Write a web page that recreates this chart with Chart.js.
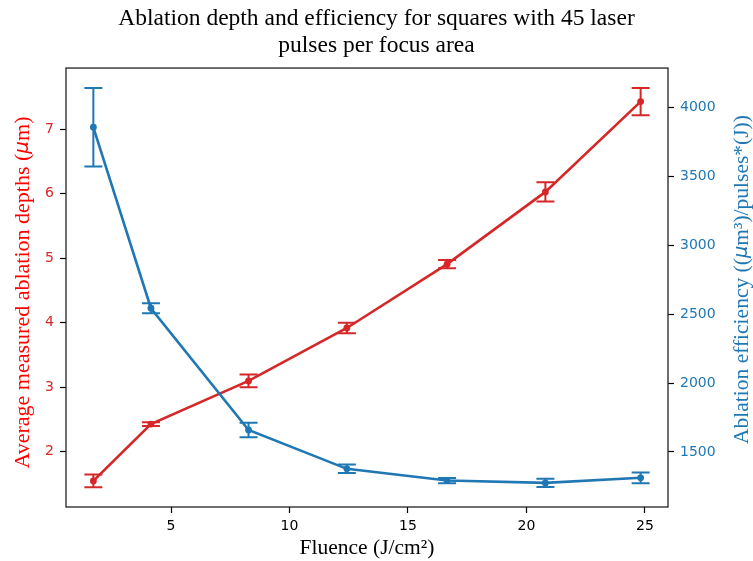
<!DOCTYPE html>
<html>
<head>
<meta charset="utf-8">
<script src="https://cdn.jsdelivr.net/npm/chart.js@4"></script>
<style>
  html, body { margin: 0; padding: 0; background: #fff; }
  #wrap { width: 753px; height: 561px; }
</style>
</head>
<body>
<div id="wrap"><canvas id="c" width="753" height="561"></canvas></div>
<script>
const fluence = [1.72, 4.15, 8.27, 12.42, 16.65, 20.8, 24.82];
const depth = [1.55, 2.43, 3.10, 3.92, 4.91, 6.03, 7.43];
const depthErr = [0.10, 0.03, 0.10, 0.08, 0.065, 0.15, 0.21];
const efficiency = [3857, 2543, 1659, 1377, 1292, 1275, 1312];
const efficiencyErr = [285, 36, 53, 31, 19, 30, 39];
const xTicks = [5, 10, 15, 20, 25];
const leftTicks = [2, 3, 4, 5, 6, 7];
const rightTicks = [1500, 2000, 2500, 3000, 3500, 4000];

const RED = '#d62728';
const BLUE = '#1f77b4';
const SERIF = "'Liberation Serif', 'DejaVu Serif', serif";
const SANS = "'DejaVu Sans', sans-serif";

const leftTitle = [
  { t: 'Average measured ablation depths (', f: `22px ${SERIF}` },
  { t: 'μ', f: `italic 20px ${SANS}` },
  { t: 'm)', f: `22px ${SERIF}` }
];
const rightTitle = [
  { t: 'Ablation efficiency ((', f: `21.5px ${SERIF}` },
  { t: 'μ', f: `italic 19.5px ${SANS}` },
  { t: 'm³)/pulses*(J))', f: `21.5px ${SERIF}` }
];

const errorBars = {
  id: 'errorBars',
  afterDatasetDraw(chart, args) {
    const ds = chart.data.datasets[args.index];
    if (!ds.errors) return;
    const ctx = chart.ctx;
    const xs = chart.scales.x;
    const ys = chart.scales[ds.yAxisID];
    ctx.save();
    ctx.strokeStyle = ds.borderColor;
    ctx.lineWidth = 2;
    ds.data.forEach((p, i) => {
      const e = ds.errors[i];
      const px = xs.getPixelForValue(p.x);
      const top = ys.getPixelForValue(p.y + e);
      const bot = ys.getPixelForValue(p.y - e);
      ctx.beginPath();
      ctx.moveTo(px, top); ctx.lineTo(px, bot);
      ctx.moveTo(px - 9, top); ctx.lineTo(px + 9, top);
      ctx.moveTo(px - 9, bot); ctx.lineTo(px + 9, bot);
      ctx.stroke();
    });
    ctx.restore();
  }
};

function drawRotated(ctx, parts, cx, cy, color) {
  ctx.save();
  ctx.fillStyle = color;
  ctx.textBaseline = 'middle';
  ctx.textAlign = 'left';
  let total = 0;
  parts.forEach(p => { ctx.font = p.f; p.w = ctx.measureText(p.t).width; total += p.w; });
  ctx.translate(cx, cy);
  ctx.rotate(-Math.PI / 2);
  let x = -total / 2;
  parts.forEach(p => { ctx.font = p.f; ctx.fillText(p.t, x, 0); x += p.w; });
  ctx.restore();
}

const frame = {
  id: 'frame',
  afterDraw(chart) {
    const a = chart.chartArea;
    const ctx = chart.ctx;
    ctx.save();
    ctx.strokeStyle = '#222';
    ctx.lineWidth = 1.3;
    ctx.strokeRect(a.left, a.top, a.right - a.left, a.bottom - a.top);
    ctx.restore();
    const cy = (a.top + a.bottom) / 2;
    drawRotated(ctx, leftTitle, 23, cy + 5, '#ff0000');
    drawRotated(ctx, rightTitle, 742, cy - 8, BLUE);
  }
};

function fixed(list) {
  return function (axis) { axis.ticks = list.map(v => ({ value: v })); };
}

new Chart(document.getElementById('c'), {
  type: 'line',
  data: {
    datasets: [
      {
        label: 'Efficiency',
        data: fluence.map((x, i) => ({ x, y: efficiency[i] })),
        errors: efficiencyErr,
        yAxisID: 'y2',
        borderColor: BLUE,
        backgroundColor: BLUE,
        borderWidth: 2.6,
        pointRadius: 3.4,
        pointBorderWidth: 0,
        tension: 0,
        order: 0
      },
      {
        label: 'Depth',
        data: fluence.map((x, i) => ({ x, y: depth[i] })),
        errors: depthErr,
        yAxisID: 'y',
        borderColor: RED,
        backgroundColor: RED,
        borderWidth: 2.6,
        pointRadius: 3.4,
        pointBorderWidth: 0,
        tension: 0,
        order: 1
      }
    ]
  },
  options: {
    responsive: false,
    animation: false,
    events: [],
    layout: { padding: 0 },
    plugins: {
      legend: { display: false },
      tooltip: { enabled: false },
      title: {
        display: true,
        text: ['Ablation depth and efficiency for squares with 45 laser', 'pulses per focus area'],
        color: '#000',
        font: { family: SERIF, size: 23.5, weight: 'normal', lineHeight: 1.15 },
        padding: { top: 5, bottom: 9 }
      }
    },
    scales: {
      x: {
        type: 'linear',
        min: 0.565, max: 25.975,
        afterBuildTicks: fixed(xTicks),
        afterFit(s) { s.height = 54; },
        border: { display: false },
        grid: { drawOnChartArea: false, drawTicks: true, tickLength: 6, color: '#000', tickWidth: 1.2 },
        ticks: { color: '#000', font: { family: SANS, size: 14 }, padding: 5 },
        title: { display: true, text: 'Fluence (J/cm²)', color: '#000', font: { family: SERIF, size: 21.5 }, padding: { top: 0, bottom: 0 } }
      },
      y: {
        type: 'linear',
        position: 'left',
        min: 1.145, max: 7.95,
        afterBuildTicks: fixed(leftTicks),
        afterFit(s) { s.width = 66; },
        border: { display: false },
        grid: { drawOnChartArea: false, drawTicks: true, tickLength: 6, color: '#000', tickWidth: 1.2 },
        ticks: { color: RED, font: { family: SANS, size: 14 }, padding: 6 },
        title: { display: false }
      },
      y2: {
        type: 'linear',
        position: 'right',
        min: 1100, max: 4287,
        afterBuildTicks: fixed(rightTicks),
        afterFit(s) { s.width = 85; },
        border: { display: false },
        grid: { drawOnChartArea: false, drawTicks: true, tickLength: 6, color: '#000', tickWidth: 1.2 },
        ticks: { color: BLUE, font: { family: SANS, size: 14 }, padding: 6, callback: v => String(v) },
        title: { display: false }
      }
    }
  },
  plugins: [errorBars, frame]
});
</script>
</body>
</html>
